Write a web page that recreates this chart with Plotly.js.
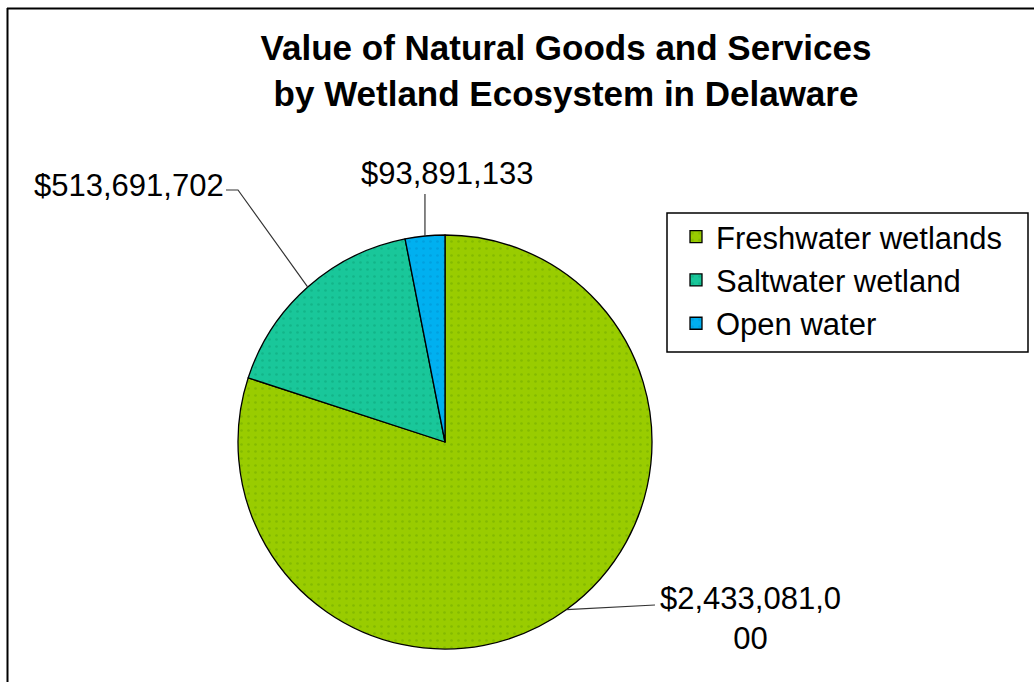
<!DOCTYPE html>
<html>
<head>
<meta charset="utf-8">
<script src="https://cdn.plot.ly/plotly-3.0.1.min.js"></script>
<style>html,body{margin:0;padding:0;background:#fff;}#chart{width:1034px;height:682px;}</style>
</head>
<body>
<div id="chart"></div>
<script>
// ---- data ----
const categories = ["Freshwater wetlands", "Saltwater wetland", "Open water"];
const values = [2433081000, 513691702, 93891133];
const colors = ["#99CC00", "#19C79A", "#00B0F0"];
const dotColors = ["#84BA00", "#12B589", "#00A0E0"];

// ---- layout constants ----
const W = 1034, H = 682;
const CX = 445, CY = 442, R = 207;
const FONT = "Liberation Sans, Arial, sans-serif";

const px2x = p => p / W;
const px2y = p => 1 - p / H;

const total = values.reduce((a, b) => a + b, 0);
let cum = 0;
const mids = values.map(v => { const m = (cum + v / 2) / total * 2 * Math.PI; cum += v; return m; });
const edge = i => [CX + R * Math.sin(mids[i]), CY - R * Math.cos(mids[i])];
const fmt = v => "$" + v.toLocaleString("en-US");

const e0 = edge(0), e1 = edge(1), e2 = edge(2);
const pathOf = pts => pts.map((p, k) => (k ? "L" : "M") + px2x(p[0]).toFixed(5) + "," + px2y(p[1]).toFixed(5)).join(" ");
const leaders = [
  pathOf([e0, [655, 605]]),
  pathOf([e1, [238, 190], [226, 190]]),
  pathOf([e2, [e2[0], 194]])
];

const lbl0 = fmt(values[0]);
const labelTexts = [lbl0.slice(0, 12) + "<br>" + lbl0.slice(12), fmt(values[1]), fmt(values[2])];

const trace = {
  type: "pie",
  labels: categories,
  values: values,
  sort: false,
  direction: "clockwise",
  rotation: 0,
  textinfo: "none",
  hoverinfo: "label+value+percent",
  automargin: false,
  domain: { x: [px2x(CX - R), px2x(CX + R)], y: [px2y(CY + R), px2y(CY - R)] },
  marker: {
    colors: colors,
    line: { color: "#000000", width: 1.3 },
    pattern: { shape: ".", fgcolor: dotColors, bgcolor: colors, size: 7, solidity: 0.12, fillmode: "replace" }
  }
};

const layout = {
  width: W, height: H,
  margin: { l: 0, r: 0, t: 0, b: 0 },
  paper_bgcolor: "#ffffff",
  plot_bgcolor: "#ffffff",
  font: { family: FONT, color: "#000000" },
  title: {
    text: "<b>Value of Natural Goods and Services<br>by Wetland Ecosystem in Delaware</b>",
    x: 566 / W, xanchor: "center",
    y: 1 - 60 / H, yanchor: "top", yref: "container",
    font: { family: FONT, size: 35, color: "#000000" }
  },
  showlegend: true,
  legend: {
    x: px2x(676), y: px2y(210), xanchor: "left", yanchor: "top",
    borderwidth: 0, bgcolor: "rgba(0,0,0,0)",
    font: { family: FONT, size: 31, color: "#000000" },
    traceorder: "normal"
  },
  shapes: [
    { type: "line", xref: "paper", yref: "paper", x0: px2x(7.5), x1: px2x(7.5), y0: px2y(8), y1: 0, line: { color: "#000", width: 2 } },
    { type: "line", xref: "paper", yref: "paper", x0: px2x(7), x1: 1, y0: px2y(8.5), y1: px2y(8.5), line: { color: "#000", width: 2 } },
    { type: "rect", xref: "paper", yref: "paper", x0: px2x(667), x1: px2x(1028), y0: px2y(352), y1: px2y(213), line: { color: "#000", width: 1.5 }, fillcolor: "rgba(0,0,0,0)", layer: "below" }
  ].concat(leaders.map(p => ({ type: "path", xref: "paper", yref: "paper", path: p, line: { color: "#333333", width: 1.2 } }))),
  annotations: [
    { text: labelTexts[0], xref: "paper", yref: "paper", x: px2x(750), y: px2y(579), xanchor: "center", yanchor: "top", align: "center", showarrow: false, font: { family: FONT, size: 31, color: "#000" } },
    { text: labelTexts[1], xref: "paper", yref: "paper", x: px2x(226), y: px2y(185), xanchor: "right", yanchor: "middle", showarrow: false, font: { family: FONT, size: 31, color: "#000" } },
    { text: labelTexts[2], xref: "paper", yref: "paper", x: px2x(447), y: px2y(173), xanchor: "center", yanchor: "middle", showarrow: false, font: { family: FONT, size: 31, color: "#000" } }
  ]
};

Plotly.newPlot("chart", [trace], layout, { displayModeBar: false, staticPlot: true });
</script>
</body>
</html>
